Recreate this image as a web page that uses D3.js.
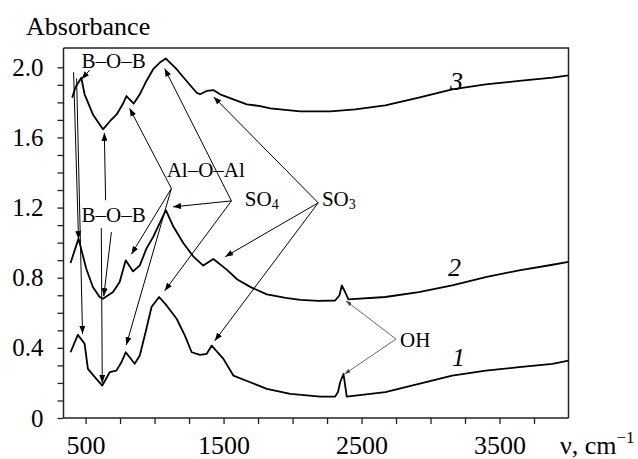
<!DOCTYPE html>
<html>
<head>
<meta charset="utf-8">
<script src="https://cdn.jsdelivr.net/npm/d3@7"></script>
<style>
  body { margin: 0; background: #fff; }
  #chart text, #chart tspan { font-family: "Liberation Serif", "Times New Roman", Tinos, serif !important; }
</style>
</head>
<body>
<svg id="chart" font-family="Liberation Serif"></svg>
<script>
// curve 3 (top)
var nu3 = [403, 427, 469, 493, 553, 626, 675, 725, 769, 796, 849, 893, 941, 990, 1038, 1082, 1160, 1232, 1305, 1329, 1378, 1426, 1475, 1571, 1669, 1765, 1838, 2056, 2275, 2454, 2672, 2915, 3157, 3400, 3642, 3884, 4000];
var abs3 = [1.827, 1.886, 1.94, 1.846, 1.731, 1.646, 1.691, 1.731, 1.789, 1.836, 1.793, 1.846, 1.922, 1.989, 2.027, 2.05, 1.989, 1.922, 1.855, 1.846, 1.865, 1.87, 1.846, 1.817, 1.789, 1.779, 1.766, 1.749, 1.749, 1.76, 1.783, 1.827, 1.874, 1.903, 1.922, 1.941, 1.954];
// curve 2
var nu2 = [391, 449, 505, 553, 602, 626, 699, 747, 791, 844, 893, 941, 990, 1082, 1135, 1208, 1280, 1353, 1426, 1523, 1600, 1700, 1814, 1950, 2056, 2187, 2309, 2340, 2357, 2380, 2405, 2672, 2915, 3157, 3400, 3642, 3884, 4000];
var abs2 = [0.884, 1.023, 0.851, 0.747, 0.69, 0.68, 0.718, 0.775, 0.899, 0.836, 0.87, 0.966, 1.033, 1.185, 1.093, 0.998, 0.922, 0.869, 0.907, 0.846, 0.79, 0.745, 0.705, 0.685, 0.674, 0.668, 0.670, 0.70, 0.756, 0.72, 0.676, 0.69, 0.718, 0.756, 0.804, 0.842, 0.874, 0.89];
// curve 1 (bottom)
var nu1 = [391, 444, 493, 517, 578, 621, 675, 723, 760, 791, 856, 893, 941, 978, 1033, 1087, 1160, 1220, 1269, 1329, 1378, 1414, 1499, 1571, 1693, 1814, 1984, 2202, 2309, 2330, 2345, 2369, 2393, 2672, 2915, 3157, 3400, 3642, 3884, 4000];
var abs1 = [0.375, 0.474, 0.423, 0.28, 0.223, 0.185, 0.261, 0.27, 0.318, 0.375, 0.309, 0.356, 0.509, 0.633, 0.69, 0.642, 0.566, 0.47, 0.375, 0.36, 0.366, 0.413, 0.337, 0.242, 0.204, 0.166, 0.137, 0.122, 0.122, 0.15, 0.204, 0.251, 0.122, 0.147, 0.194, 0.242, 0.27, 0.29, 0.309, 0.327];

var xTicks = [500, 750, 1000, 1250, 1500, 1750, 2000, 2250, 2500, 2750, 3000, 3250, 3500, 3750];
var xTickLabels = [500, 1500, 2500, 3500];
var yTicks = [0, 0.1, 0.2, 0.3, 0.4, 0.5, 0.6, 0.7, 0.8, 0.9, 1.0, 1.1, 1.2, 1.3, 1.4, 1.5, 1.6, 1.7, 1.8, 1.9, 2.0];
var yTickLabels = [0, 0.4, 0.8, 1.2, 1.6, 2.0];

// curve numbers (italic), anchored in data units
var curveNames = [
  {name: "3", nu: 3141, a: 1.869},
  {name: "2", nu: 3127, a: 0.809},
  {name: "1", nu: 3156, a: 0.296}
];

// band labels, anchored in data units
var bandLabels = [
  {text: "B–O–B", sub: "", nu: 471, a: 1.994},
  {text: "B–O–B", sub: "", nu: 471, a: 1.117},
  {text: "Al–O–Al", sub: "", nu: 1088, a: 1.373},
  {text: "SO", sub: "4", nu: 1654, a: 1.208},
  {text: "SO", sub: "3", nu: 2213, a: 1.208},
  {text: "OH", sub: "", nu: 2779, a: 0.405}
];

// arrows: [from nu, from A, to nu, to A]
var arrows = [
  [529, 1.983, 471, 1.932],
  [413, 1.972, 449, 1.02],
  [435, 1.937, 478, 0.48],
  [645, 1.242, 636, 1.626],
  [614, 1.083, 621, 0.2],
  [687, 1.06, 632, 0.695],
  [1122, 1.309, 819, 1.766],
  [1122, 1.309, 832, 0.934],
  [1122, 1.309, 795, 0.416],
  [1557, 1.238, 1073, 1.993],
  [1557, 1.238, 1134, 1.204],
  [1557, 1.238, 1073, 0.725],
  [2186, 1.227, 1429, 1.831],
  [2186, 1.227, 1512, 0.920],
  [2186, 1.227, 1436, 0.44]
];
var ohArrows = [
  [2750, 0.45, 2387, 0.668],
  [2750, 0.45, 2377, 0.251]
];

var FONT = "Liberation Serif";

var svgWidth = 638, svgHeight = 459;
var margin = {top: 48, right: 69.5, bottom: 41, left: 63.5};
var width = svgWidth - margin.left - margin.right;
var height = svgHeight - margin.top - margin.bottom;

var svg = d3.select("#chart")
  .attr("width", svgWidth)
  .attr("height", svgHeight);

var defs = svg.append("defs");
defs.append("marker")
  .attr("id", "head")
  .attr("viewBox", "0 0 8 6")
  .attr("refX", 8)
  .attr("refY", 3)
  .attr("markerWidth", 8)
  .attr("markerHeight", 6)
  .attr("markerUnits", "userSpaceOnUse")
  .attr("orient", "auto")
  .append("path")
  .attr("d", "M0,0L8,3L0,6Z")
  .attr("fill", "#000");
defs.append("marker")
  .attr("id", "headGray")
  .attr("viewBox", "0 0 6 4")
  .attr("refX", 6)
  .attr("refY", 2)
  .attr("markerWidth", 6)
  .attr("markerHeight", 4)
  .attr("markerUnits", "userSpaceOnUse")
  .attr("orient", "auto")
  .append("path")
  .attr("d", "M0,0L6,2L0,4Z")
  .attr("fill", "#444");

var g = svg.append("g")
  .attr("transform", "translate(" + margin.left + "," + margin.top + ")");

var x = d3.scaleLinear().domain([340, 4000]).range([0, width]);
var y = d3.scaleLinear().domain([0, 2.11]).range([height, 0]);

// frame (top and right)
g.append("path")
  .attr("d", "M0,0H" + width + "V" + height)
  .attr("fill", "none")
  .attr("stroke", "#222")
  .attr("stroke-width", 1.5);

var xAxis = g.append("g")
  .attr("transform", "translate(0," + height + ")")
  .call(d3.axisBottom(x)
    .tickValues(xTicks)
    .tickSize(6)
    .tickSizeOuter(0)
    .tickFormat(function (d) {
      return xTickLabels.indexOf(d) >= 0 ? d : "";
    }));
xAxis.selectAll("text")
  .attr("y", 36)
  .attr("dy", 0)
  .attr("font-family", FONT)
  .attr("font-size", 26);

var yAxis = g.append("g")
  .call(d3.axisLeft(y)
    .tickValues(yTicks)
    .tickSize(6)
    .tickSizeOuter(0)
    .tickPadding(14)
    .tickFormat(function (d) {
      var hit = yTickLabels.some(function (t) { return Math.abs(t - d) < 1e-6; });
      if (!hit) return "";
      return d === 0 ? "0" : d3.format(".1f")(d);
    }));
yAxis.selectAll("text")
  .attr("font-family", FONT)
  .attr("font-size", 25);

[xAxis, yAxis].forEach(function (a) {
  a.attr("font-family", FONT);
  a.selectAll(".domain").attr("stroke", "#222").attr("stroke-width", 1.5);
  a.selectAll(".tick line").attr("stroke", "#222").attr("stroke-width", 1.3);
  a.select(".domain").attr("d", a === xAxis ? "M0,0H" + width : "M0,0V" + height);
});

// axis titles
svg.append("text")
  .attr("x", 26)
  .attr("y", 35)
  .attr("font-family", FONT)
  .attr("font-size", 26)
  .text("Absorbance");

var xt = svg.append("text")
  .attr("x", 560)
  .attr("y", 454)
  .attr("font-family", FONT)
  .attr("font-size", 26);
xt.append("tspan").text("ν, cm");
xt.append("tspan")
  .attr("dy", -11)
  .attr("font-size", 17)
  .text("−1");

// spectra
var line = d3.line()
  .x(function (d) { return x(d[0]); })
  .y(function (d) { return y(d[1]); });

[[nu1, abs1], [nu2, abs2], [nu3, abs3]].forEach(function (c) {
  g.append("path")
    .datum(d3.zip(c[0], c[1]))
    .attr("fill", "none")
    .attr("stroke", "#000")
    .attr("stroke-width", 1.8)
    .attr("stroke-linejoin", "round")
    .attr("d", line);
});

// annotation arrows
g.selectAll(".arrow")
  .data(arrows)
  .enter().append("line")
  .attr("class", "arrow")
  .attr("x1", function (d) { return x(d[0]); })
  .attr("y1", function (d) { return y(d[1]); })
  .attr("x2", function (d) { return x(d[2]); })
  .attr("y2", function (d) { return y(d[3]); })
  .attr("stroke", "#000")
  .attr("stroke-width", 1)
  .attr("marker-end", "url(#head)");

g.selectAll(".oharrow")
  .data(ohArrows)
  .enter().append("line")
  .attr("class", "oharrow")
  .attr("x1", function (d) { return x(d[0]); })
  .attr("y1", function (d) { return y(d[1]); })
  .attr("x2", function (d) { return x(d[2]); })
  .attr("y2", function (d) { return y(d[3]); })
  .attr("stroke", "#444")
  .attr("stroke-width", 0.8)
  .attr("marker-end", "url(#headGray)");

// band labels
bandLabels.forEach(function (b) {
  var t = g.append("text")
    .attr("x", x(b.nu))
    .attr("y", y(b.a))
    .attr("font-family", FONT)
    .attr("font-size", 21)
    .text(b.text);
  if (b.sub) {
    t.append("tspan")
      .attr("dy", 3)
      .attr("font-size", 14)
      .text(b.sub);
  }
});

// curve numbers
g.selectAll(".cname")
  .data(curveNames)
  .enter().append("text")
  .attr("class", "cname")
  .attr("x", function (d) { return x(d.nu); })
  .attr("y", function (d) { return y(d.a); })
  .attr("font-family", FONT)
  .attr("font-size", 26)
  .attr("font-style", "italic")
  .text(function (d) { return d.name; });
</script>
</body>
</html>
